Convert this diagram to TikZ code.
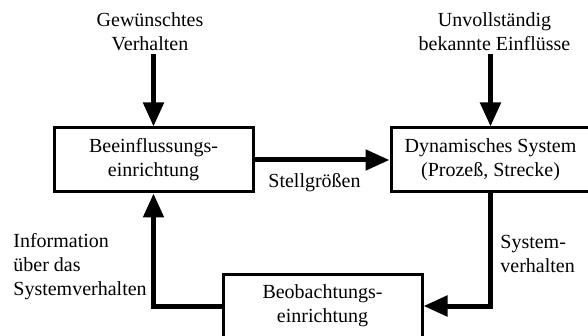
\documentclass[tikz,border=0pt]{standalone}
\usepackage{fontspec}
\setmainfont{Liberation Serif}
\usetikzlibrary{positioning,arrows.meta}

\tikzset{
  block/.style={draw, line width=1.5pt, minimum width=99.5pt, minimum height=32pt, align=center},
  txt/.style={inner sep=1.5pt},
  arr/.style={-{Triangle[length=12pt,width=10pt]}, line width=2.5pt}
}

\begin{document}
\begin{tikzpicture}[x=0.5pt, y=-0.5pt, font=\fontsize{10}{12}\selectfont]

  \useasboundingbox (0,0) rectangle (588,336);

  \node (beein) [block] at (153.5,160) {Beeinflussungs-\\einrichtung};
  \node (dynsys) [block, right=67.5pt of beein] {Dynamisches System\\(Prozeß, Strecke)};
  \node (beob) [block, below=39.5pt of beein, xshift=84.5pt] {Beobachtungs-\\einrichtung};

  \node (wunsch) [txt, align=center] at (150,32) {Gewünschtes\\Verhalten};
  \node (einfl) [txt, align=center] at (494.5,32) {Unvollständig\\bekannte Einflüsse};
  \node (info) [txt, align=left, anchor=west] at (10,267) {Information\\über das\\Systemverhalten};
  \node (sysv) [txt, align=left, anchor=west] at (497,254) {System-\\verhalten};

  \draw [arr] (beein.north |- wunsch.south) -- (beein);
  \draw [arr] (dynsys.north |- einfl.south) -- (dynsys);
  \draw [arr] (beein) -- node [below=5.5pt, xshift=-3.75pt, inner sep=0pt] {Stellgrößen} (dynsys);
  \draw [arr] (dynsys.south) |- (beob.east);
  \draw [arr] (beob.west) -| (beein.south);

\end{tikzpicture}
\end{document}
